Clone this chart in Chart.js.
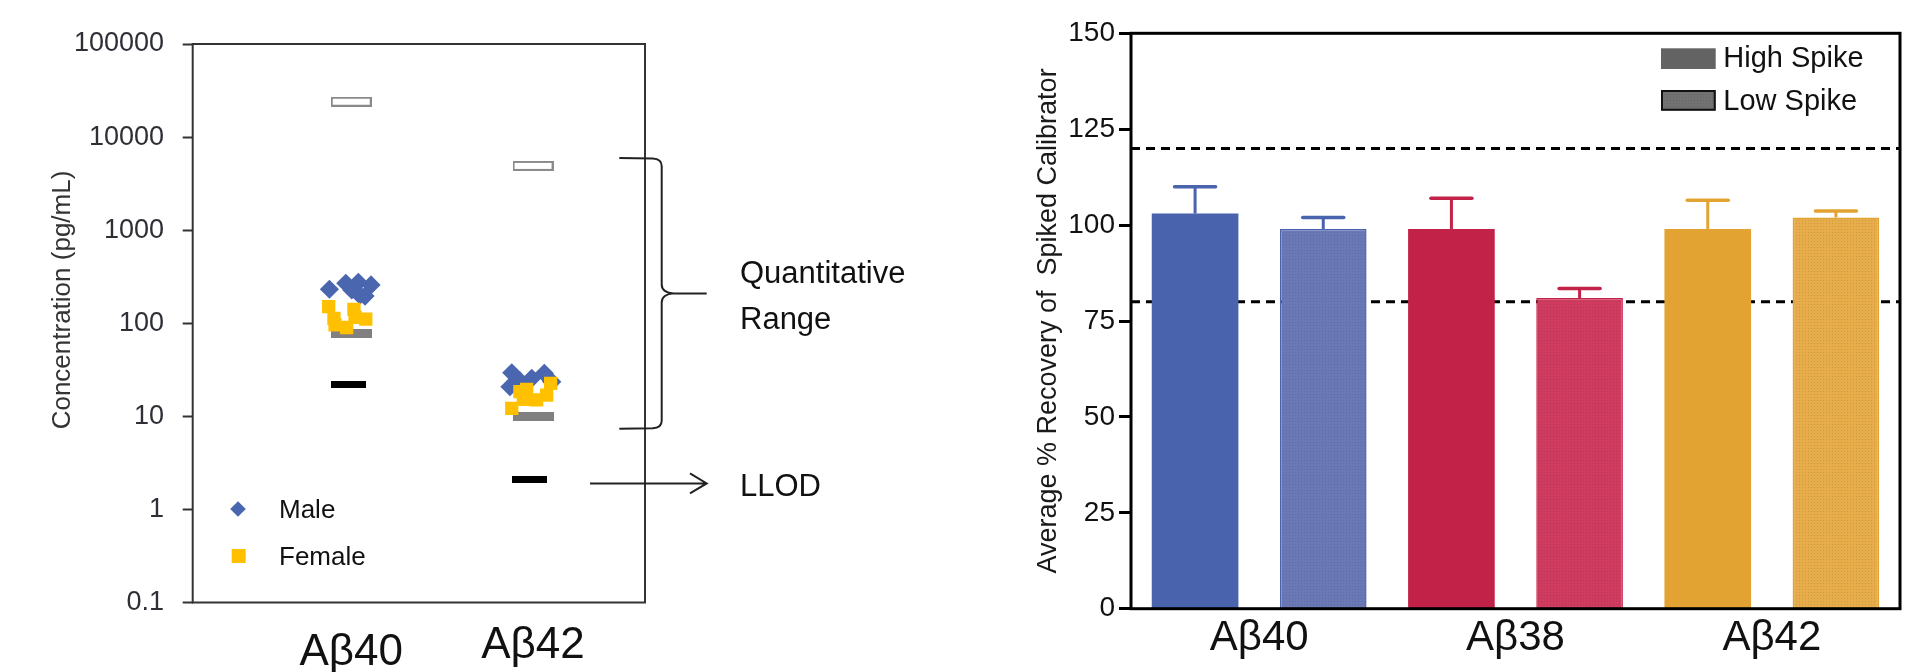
<!DOCTYPE html>
<html>
<head>
<meta charset="utf-8">
<script src="https://cdn.jsdelivr.net/npm/chart.js@4.4.1/dist/chart.umd.min.js"></script>
<style>
  html, body { margin: 0; padding: 0; background: #fff; }
  body { width: 1907px; height: 672px; position: relative; overflow: hidden; }
  canvas { position: absolute; top: 0; }
  #conc { left: 0; }
  #recovery { left: 1000px; }
</style>
</head>
<body>
<canvas id="conc" width="1000" height="672"></canvas>
<canvas id="recovery" width="907" height="672"></canvas>
<script>
const sans = '"Liberation Sans", Arial, sans-serif'
const narrow = '"Liberation Sans Narrow", "Liberation Sans", Arial, sans-serif'

// ---- left panel: measured concentrations (pg/mL) ----
const concCategories = ['Aβ40', 'Aβ42']
const concTicks = [0.1, 1, 10, 100, 1000, 10000, 100000]

const maleAb40 = [232, 269, 275, 258, 196, 200, 228]
const maleAb40Jitter = [-0.120, -0.030, 0.039, 0.109, 0.076, 0.048, 0.003]
const femaleAb40 = [151, 113, 96, 90, 141, 116, 111]
const femaleAb40Jitter = [-0.124, -0.095, -0.089, -0.025, 0.015, 0.021, 0.080]
const maleAb42 = [29.4, 20.8, 25.6, 29, 23.5, 24]
const maleAb42Jitter = [-0.117, -0.127, -0.007, 0.062, 0.103, -0.072]
const femaleAb42 = [12.2, 18.4, 19.5, 15, 16.9, 22.6, 15.2]
const femaleAb42Jitter = [-0.117, -0.072, -0.035, 0.020, 0.075, 0.097, -0.053]

const uloq = [24000, 4900]
const lloq = [78, 10]
const llod = [22, 2.1]

// ---- right panel: spike recovery (%) ----
const recCategories = ['Aβ40', 'Aβ38', 'Aβ42']
const highSpike = [103, 99, 99]
const highSpikeErr = [7, 8, 7.5]
const lowSpike = [99, 81, 102]
const lowSpikeErr = [3, 2.5, 1.7]
const acceptLimits = [80, 120]

const highColors = ['#4963ad', '#c22148', '#e3a332']
const lowColors = ['#6a78b5', '#cf3c60', '#e7ad4a']
const maleColor = '#4a66ae'
const femaleColor = '#ffc000'

const points = (cat, values, jitter) => values.map((v, i) => ({ x: cat + jitter[i], y: v }))

// little bitmaps used as point styles for the range markers
function markCanvas(w, h, fill, stroke){
    const c = document.createElement('canvas')
    c.width = w
    c.height = h
    const g = c.getContext('2d')
    if (fill){
        g.fillStyle = fill
        g.fillRect(0, 0, w, h)
    }
    if (stroke){
        g.strokeStyle = stroke
        g.lineWidth = 2
        g.strokeRect(1, 1, w - 2, h - 2)
    }
    return c
}

function dotted(ctx, base){
    const c = document.createElement('canvas')
    c.width = 3
    c.height = 3
    const g = c.getContext('2d')
    g.fillStyle = base
    g.fillRect(0, 0, 3, 3)
    g.fillStyle = 'rgba(0,0,0,0.10)'
    g.fillRect(1, 1, 1, 1)
    return ctx.createPattern(c, 'repeat')
}

const concAnnotations = {
    id: 'concAnnotations',
    afterDraw(chart){
        const { ctx, chartArea: a, scales: { y } } = chart
        ctx.save()

        // frame
        ctx.strokeStyle = '#333'
        ctx.lineWidth = 2
        ctx.strokeRect(a.left, a.top, a.right - a.left, a.bottom - a.top)

        // axis title
        ctx.save()
        ctx.translate(63, 300)
        ctx.rotate(-Math.PI / 2)
        ctx.fillStyle = '#333'
        ctx.font = '26px ' + sans
        ctx.textAlign = 'center'
        ctx.textBaseline = 'middle'
        ctx.fillText('Concentration (pg/mL)', 0, 0)
        ctx.restore()

        // legend
        ctx.fillStyle = maleColor
        Chart.helpers.drawPoint(ctx, { pointStyle: 'rectRot', radius: 7.8, borderWidth: 0 }, a.left + 45.3, 509)
        ctx.fillStyle = femaleColor
        ctx.fillRect(a.left + 39, 549, 14, 14)
        ctx.fillStyle = '#111'
        ctx.font = '26px ' + sans
        ctx.textBaseline = 'middle'
        ctx.fillText('Male', a.left + 86.3, 511)
        ctx.fillText('Female', a.left + 86.3, 558)

        // brace over the quantitative range of Aβ42
        const top = y.getPixelForValue(uloq[1]) - 8
        const bot = y.getPixelForValue(lloq[1]) + 12.5
        const mid = (top + bot) / 2
        const x0 = a.right - 25.7, xv = a.right + 16.7, xt = a.right + 61.7
        ctx.strokeStyle = '#222'
        ctx.lineWidth = 2
        ctx.beginPath()
        ctx.moveTo(x0, top)
        ctx.lineTo(xv - 9, top + 0.5)
        ctx.quadraticCurveTo(xv, top + 1, xv, top + 8)
        ctx.lineTo(xv, mid - 9)
        ctx.quadraticCurveTo(xv, mid - 1, xv + 12, mid)
        ctx.lineTo(xt, mid)
        ctx.moveTo(xv + 12, mid)
        ctx.quadraticCurveTo(xv, mid + 1, xv, mid + 9)
        ctx.lineTo(xv, bot - 8)
        ctx.quadraticCurveTo(xv, bot - 1, xv - 9, bot - 0.5)
        ctx.lineTo(x0, bot)
        ctx.stroke()

        // arrow to the detection limit
        const ya = y.getPixelForValue(llod[1]) + 4
        ctx.beginPath()
        ctx.moveTo(a.right - 55, ya)
        ctx.lineTo(xt, ya)
        ctx.moveTo(xt - 16.7, ya - 10)
        ctx.lineTo(xt, ya)
        ctx.lineTo(xt - 16.7, ya + 10)
        ctx.stroke()

        ctx.fillStyle = '#111'
        ctx.font = '31px ' + sans
        ctx.textBaseline = 'alphabetic'
        ctx.fillText('Quantitative', a.right + 95, mid - 10)
        ctx.fillText('Range', a.right + 95, mid + 36)
        ctx.fillText('LLOD', a.right + 95, ya + 13)
        ctx.restore()
    }
}

new Chart(document.getElementById('conc'), {
    type: 'scatter',
    data: {
        datasets: [
            {
                label: 'Female',
                data: points(1, femaleAb40, femaleAb40Jitter).concat(points(2, femaleAb42, femaleAb42Jitter)),
                pointStyle: 'rect', pointRadius: 9.4, borderWidth: 0,
                backgroundColor: femaleColor,
            },
            {
                label: 'Male',
                data: points(1, maleAb40, maleAb40Jitter).concat(points(2, maleAb42, maleAb42Jitter)),
                pointStyle: 'rectRot', pointRadius: 9.6, borderWidth: 0,
                backgroundColor: maleColor,
            },
            {
                label: 'ULOQ',
                data: uloq.map((v, i) => ({ x: i + 1, y: v })),
                pointStyle: markCanvas(41, 10, '#fff', '#8a8a8a'), pointRadius: 5,
            },
            {
                label: 'LLOQ',
                data: lloq.map((v, i) => ({ x: i + 1, y: v })),
                pointStyle: markCanvas(41, 9, '#808080'), pointRadius: 5,
            },
            {
                label: 'LLOD',
                data: llod.map((v, i) => ({ x: i + 1 - 0.017, y: v })),
                pointStyle: markCanvas(35, 7, '#000'), pointRadius: 5,
            },
        ]
    },
    options: {
        responsive: false,
        animation: false,
        layout: { padding: { left: 0, top: 44, right: 355, bottom: 0 } },
        plugins: { legend: { display: false }, tooltip: { enabled: false } },
        scales: {
            x: {
                type: 'linear',
                min: 0.128,
                max: 2.616,
                afterBuildTicks: (axis) => { axis.ticks = concCategories.map((c, i) => ({ value: i + 1 })) },
                afterFit: (axis) => { axis.height = 69.5 },
                grid: { display: false, drawTicks: false },
                border: { display: false },
                ticks: {
                    autoSkip: false,
                    color: '#111',
                    padding: 17.4,
                    font: (c) => ({ family: sans, size: 44, lineHeight: c.index === 0 ? 1.52 : 1.2 }),
                    callback: (v) => concCategories[v - 1],
                },
            },
            y: {
                type: 'logarithmic',
                min: 0.1,
                max: 100000,
                afterBuildTicks: (axis) => { axis.ticks = concTicks.map(v => ({ value: v })) },
                afterFit: (axis) => { axis.width = 192.7 },
                grid: { drawOnChartArea: false, tickLength: 10, tickWidth: 2, tickColor: '#333' },
                border: { display: false },
                ticks: {
                    color: '#2e2e36',
                    padding: 18.7,
                    font: { family: sans, size: 27 },
                    callback: (v) => String(v),
                },
            },
        },
    },
    plugins: [concAnnotations],
})

// ---- right panel ----
const recCanvas = document.getElementById('recovery')
const rctx = recCanvas.getContext('2d')
const lowFills = lowColors.map(c => dotted(rctx, c))

const recoveryDecor = {
    id: 'recoveryDecor',
    beforeDatasetsDraw(chart){
        const { ctx, chartArea: a, scales: { y } } = chart
        ctx.save()
        ctx.strokeStyle = '#000'
        ctx.lineWidth = 3
        ctx.setLineDash([9, 6])
        acceptLimits.forEach(v => {
            const py = y.getPixelForValue(v)
            ctx.beginPath()
            ctx.moveTo(a.left, py)
            ctx.lineTo(a.right, py)
            ctx.stroke()
        })
        ctx.restore()
    },
    afterDatasetsDraw(chart){
        const { ctx, scales: { y } } = chart
        const errs = [highSpikeErr, lowSpikeErr]
        ctx.save()
        chart.data.datasets.forEach((ds, di) => {
            chart.getDatasetMeta(di).data.forEach((bar, i) => {
                const top = y.getPixelForValue(ds.data[i] + errs[di][i])
                ctx.strokeStyle = highColors[i]
                ctx.lineWidth = 3
                ctx.lineCap = 'butt'
                ctx.beginPath()
                ctx.moveTo(bar.x, bar.y)
                ctx.lineTo(bar.x, top)
                ctx.stroke()
                ctx.lineWidth = 3.5
                ctx.lineCap = 'round'
                ctx.beginPath()
                ctx.moveTo(bar.x - 20.5, top)
                ctx.lineTo(bar.x + 20.5, top)
                ctx.stroke()
            })
        })
        ctx.restore()
    },
    afterDraw(chart){
        const { ctx, chartArea: a } = chart
        ctx.save()
        ctx.strokeStyle = '#000'
        ctx.lineWidth = 3
        ctx.strokeRect(a.left, a.top, a.right - a.left, a.bottom - a.top)

        // legend
        const bx = a.right - 239
        ctx.fillStyle = '#636363'
        ctx.fillRect(bx, a.top + 15, 54.7, 20.7)
        ctx.fillStyle = dotted(ctx, '#727272')
        ctx.fillRect(bx, a.top + 56.7, 54.7, 20.7)
        ctx.lineWidth = 2
        ctx.strokeStyle = '#111'
        ctx.strokeRect(bx + 1, a.top + 57.7, 52.7, 18.7)
        ctx.fillStyle = '#111'
        ctx.font = '29px ' + sans
        ctx.textBaseline = 'alphabetic'
        ctx.fillText('High Spike', a.right - 176.7, a.top + 34)
        ctx.fillText('Low Spike', a.right - 176.7, a.top + 76.7)
        ctx.restore()
    }
}

new Chart(recCanvas, {
    type: 'bar',
    data: {
        labels: recCategories,
        datasets: [
            {
                label: 'High Spike',
                data: highSpike,
                backgroundColor: highColors,
                borderWidth: 0,
                barPercentage: 0.676,
                categoryPercentage: 1,
            },
            {
                label: 'Low Spike',
                data: lowSpike,
                backgroundColor: lowFills,
                borderColor: highColors,
                borderWidth: 1.5,
                barPercentage: 0.676,
                categoryPercentage: 1,
            },
        ]
    },
    options: {
        responsive: false,
        animation: false,
        layout: { padding: { left: 20, top: 33.3, right: 7, bottom: 0 } },
        plugins: { legend: { display: false }, tooltip: { enabled: false } },
        scales: {
            x: {
                afterFit: (axis) => { axis.height = 63.3 },
                grid: { display: false, drawTicks: false },
                border: { display: false },
                ticks: { color: '#111', padding: 5, font: { family: sans, size: 42 } },
            },
            y: {
                min: 0,
                max: 150,
                afterFit: (axis) => { axis.width = 111 },
                grid: { drawOnChartArea: false, tickLength: 12, tickWidth: 3, tickColor: '#000' },
                border: { display: false },
                ticks: { stepSize: 25, color: '#111', padding: 4, font: { family: narrow, size: 28 } },
                title: {
                    display: true,
                    text: 'Average % Recovery of  Spiked Calibrator',
                    color: '#1a1a1a',
                    font: { family: sans, size: 27 },
                    padding: { top: 12.8, bottom: 0 },
                },
            },
        },
    },
    plugins: [recoveryDecor],
})
</script>
</body>
</html>
